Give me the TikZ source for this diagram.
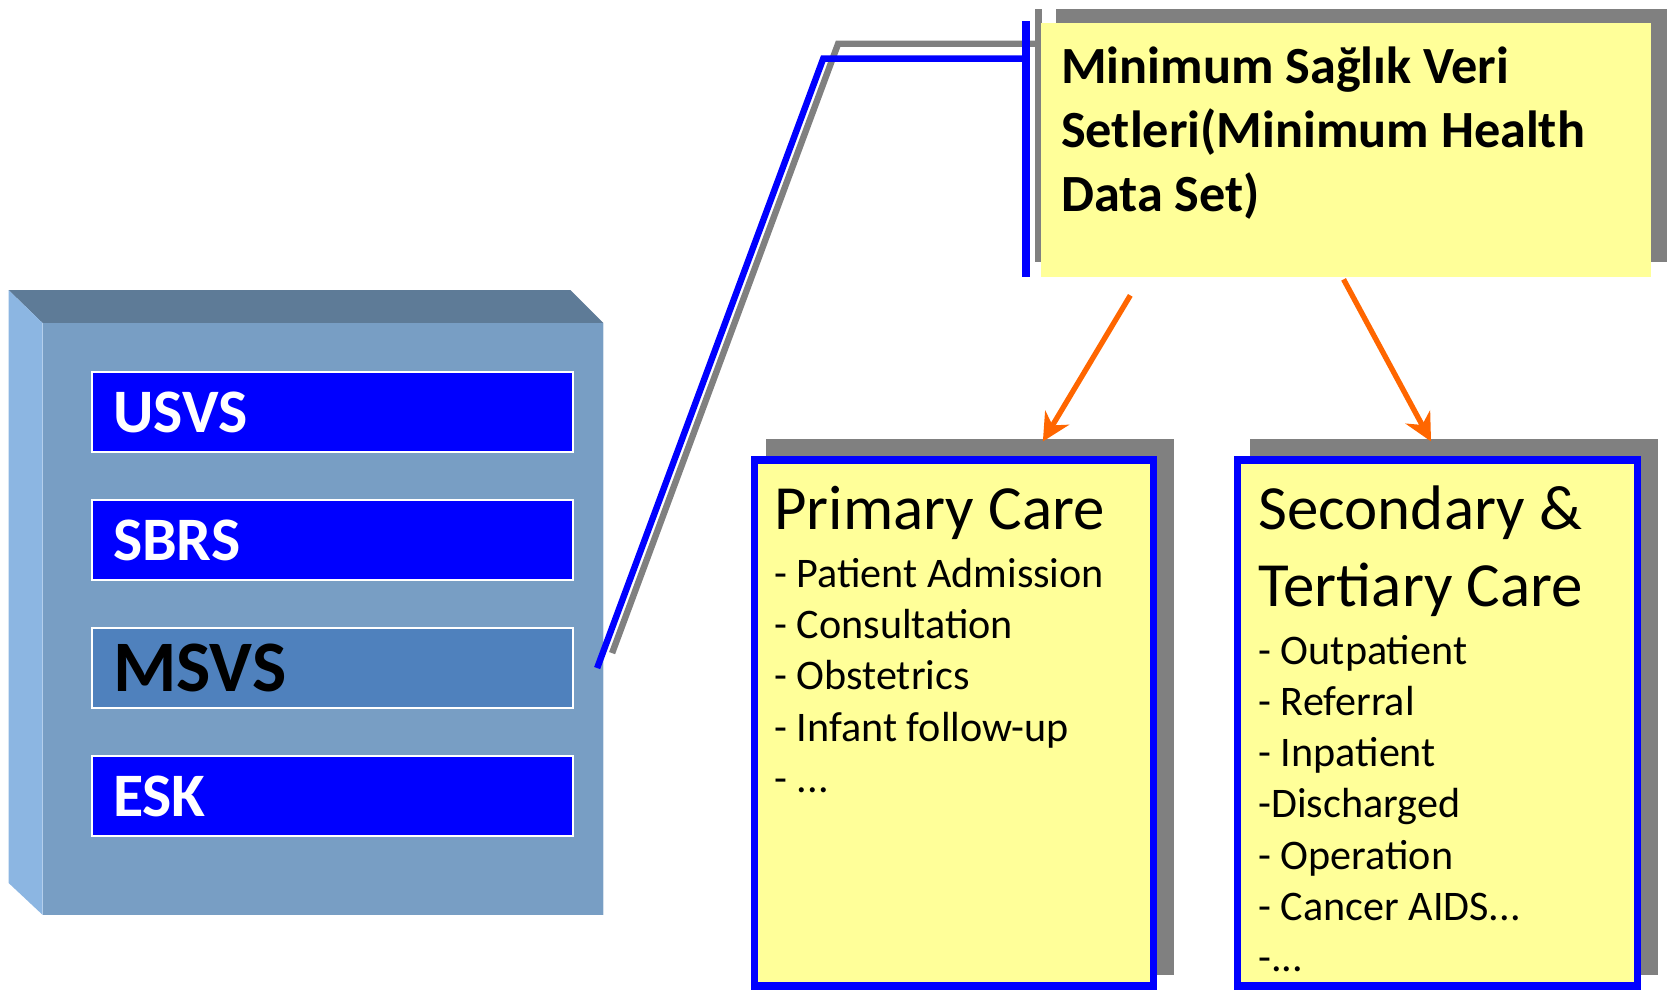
\documentclass[tikz,border=0pt]{standalone}
\usepackage{fontspec}
\setmainfont{Carlito}
\usetikzlibrary{arrows.meta,calc}
\definecolor{cubefront}{RGB}{120,158,196}
\definecolor{cubetop}{RGB}{94,123,151}
\definecolor{cubeleft}{RGB}{140,182,226}
\definecolor{barblue}{RGB}{0,0,255}
\definecolor{msvsblue}{RGB}{79,129,189}
\definecolor{noteyellow}{RGB}{255,255,153}
\definecolor{shadowgray}{RGB}{128,128,128}
\definecolor{arroworange}{RGB}{255,102,0}
\begin{document}
\begin{tikzpicture}[x=1pt,y=-1pt,
  bar/.style={draw=white, line width=2pt, anchor=north west, minimum height=75pt,
    text width=411pt, inner xsep=20pt, inner ysep=0pt, align=left,
    font=\fontsize{58}{70}\selectfont\bfseries, text=white},
  shadowbox/.style={fill=shadowgray, anchor=north west, inner sep=0pt, outer sep=0pt},
  carebox/.style={draw=barblue, line width=7pt, fill=noteyellow, anchor=north west,
    inner sep=0pt, outer sep=0pt, minimum width=374pt, minimum height=493pt},
  titletext/.style={anchor=base west, inner sep=0pt, font=\fontsize{59}{72}\selectfont},
  itemtext/.style={anchor=base west, inner sep=0pt, font=\fontsize{39.5}{48}\selectfont},
  headtext/.style={anchor=base west, inner sep=0pt, font=\fontsize{49}{60}\selectfont\bfseries},
  connblue/.style={draw=barblue, line width=6pt},
  conngray/.style={draw=shadowgray, line width=6pt},
  orarrow/.style={draw=arroworange, line width=5pt, -{Stealth[length=26pt,width=26pt]}}
]
\useasboundingbox (0,0) rectangle (1568,933);

% cube
\fill[cubetop] (8,272) -- (535,272) -- (566,303) -- (40,303) -- cycle;
\fill[cubeleft] (8,272) -- (40,303) -- (40,858) -- (8,828) -- cycle;
\node[fill=cubefront, anchor=north west, inner sep=0pt, outer sep=0pt,
  minimum width=526pt, minimum height=555pt] (cube) at (40,303) {};
\draw[white!70!cubefront, line width=1.5pt] (cube.north east) -- (cube.south east);

% bars
\node[bar, fill=barblue] (usvs) at (85,348) {USVS};
\node[bar, fill=barblue] (sbrs) at (85,468) {SBRS};
\node[bar, fill=msvsblue, text=black, font=\fontsize{68}{80}\selectfont\bfseries] (msvs) at (85,588) {MSVS};
\node[bar, fill=barblue] (esk) at (85,708) {ESK};

% callout shadow pieces
\node[shadowbox, minimum width=6pt, minimum height=238pt] (accentshadow) at (971,8) {};
\node[shadowbox, minimum width=573pt, minimum height=238pt] (mhdsshadow) at (990,8) {};
\coordinate (gbend) at (786,41);
\coordinate (bbend) at (772,55);
\draw[conngray] ($(msvs.east)+(36,-14)$) -- (gbend) -- (gbend -| accentshadow.center);

% callout box
\node[fill=noteyellow, anchor=north west, inner sep=0pt, outer sep=0pt,
  minimum width=572pt, minimum height=238pt] (mhds) at (976,22) {};
\node[fill=barblue, anchor=north west, inner sep=0pt, outer sep=0pt,
  minimum width=7pt, minimum height=240pt] (accent) at (958.5,20) {};
\draw[connblue] ($(msvs.east)+(22,0)$) -- (bbend) -- (bbend -| accent.center);

\node[headtext] (h1) at (995,78) {Minimum Sağlık Veri};
\node[headtext] (h2) at (995,138) {Setleri(Minimum Health};
\node[headtext] (h3) at (995,198) {Data Set)};

% primary care
\node[shadowbox, minimum width=383pt, minimum height=502pt] (pshadow) at (718,412) {};
\node[carebox] (primary) at (707.5,431.5) {};
\node[titletext] (ptitle) at (726,497) {Primary Care};
\node[itemtext] (pitem1) at (726,551) {- Patient Admission};
\node[itemtext] (pitem2) at (726,599) {- Consultation};
\node[itemtext] (pitem3) at (726,647) {- Obstetrics};
\node[itemtext] (pitem4) at (726,695) {- Infant follow-up};
\node[itemtext] (pitem5) at (726,743) {- ...};

% secondary care
\node[shadowbox, minimum width=383pt, minimum height=502pt] (sshadow) at (1172,412) {};
\node[carebox, minimum width=375pt] (secondary) at (1160.5,431.5) {};
\node[titletext] (stitle1) at (1180,497) {Secondary \&};
\node[titletext] (stitle2) at (1180,569) {Tertiary Care};
\node[itemtext] (sitem1) at (1180,623) {- Outpatient};
\node[itemtext] (sitem2) at (1180,671) {- Referral};
\node[itemtext] (sitem3) at (1180,719) {- Inpatient};
\node[itemtext] (sitem4) at (1180,767) {-Discharged};
\node[itemtext] (sitem5) at (1180,815) {- Operation};
\node[itemtext] (sitem6) at (1180,863) {- Cancer AIDS...};
\node[itemtext] (sitem7) at (1180,911) {-...};

% arrows
\coordinate (a1s) at (1060,277);
\coordinate (a1e) at (978,414);
\coordinate (a2s) at (1260,262);
\coordinate (a2e) at (1342,414);
\draw[orarrow] (a1s) -- (a1e);
\draw[orarrow] (a2s) -- (a2e);
\end{tikzpicture}
\end{document}
